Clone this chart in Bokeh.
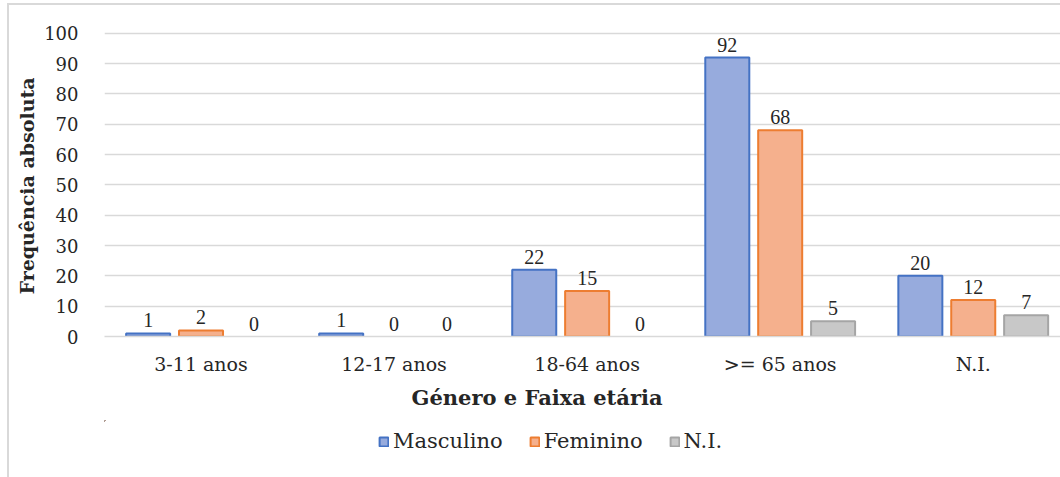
import numpy as np
from bokeh.plotting import figure
from bokeh.layouts import column
from bokeh.models import (Range1d, FixedTicker, Legend, LegendItem,
                          ColumnDataSource, LabelSet, Title)
from bokeh.embed import file_html
from bokeh.resources import INLINE

# Data
categories = ["3-11 anos", "12-17 anos", "18-64 anos", ">= 65 anos", "N.I."]
masculino = [1, 1, 22, 92, 20]
feminino = [2, 0, 15, 68, 12]
nao_indicado = [0, 0, 0, 5, 7]
series_names = ["Masculino", "Feminino", "N.I."]
y_ticks = list(range(0, 101, 10))

FONT = "DejaVu Serif"
TEXT = "#262626"
GRID = "#d9d9d9"

fills = ["#97abdd", "#f5b08d", "#c8c8c8"]
lines = ["#4472c4", "#ed7d31", "#a5a5a5"]

base = np.arange(len(categories)) + 0.5
offset = 0.274
bar_w = 0.228
all_series = [masculino, feminino, nao_indicado]

p = figure(width=1051, height=415, output_backend="svg", toolbar_location=None,
           x_range=Range1d(0, 4.952), y_range=Range1d(0, 104.9),
           min_border_left=94, min_border_right=0, min_border_top=13,
           min_border_bottom=84)
p.outline_line_color = None

for i, vals in enumerate(all_series):
    src = ColumnDataSource(dict(x=base + (i - 1) * offset, top=vals,
                                lab=[str(v) for v in vals],
                                la=[1.0 if v > 0 else 0.0 for v in vals]))
    p.vbar(x="x", top="top", width=bar_w, source=src,
           fill_color=fills[i], line_color=lines[i], line_width=2,
           line_alpha="la")
    p.add_layout(LabelSet(x="x", y="top", text="lab", source=src,
                          text_align="center", text_baseline="bottom",
                          y_offset=6, text_font=FONT, text_font_size="20px",
                          text_color=TEXT))

# Axes
p.xaxis.ticker = FixedTicker(ticks=list(base))
p.xaxis.major_label_overrides = {float(b): c for b, c in zip(base, categories)}
p.xaxis.axis_line_color = GRID
p.xaxis.axis_line_width = 1.5
p.xaxis.major_tick_line_color = None
p.xaxis.minor_tick_line_color = None
p.xaxis.major_label_standoff = 10
p.xaxis.major_label_text_font = FONT
p.xaxis.major_label_text_font_size = "19px"
p.xaxis.major_label_text_color = TEXT

p.yaxis.ticker = FixedTicker(ticks=y_ticks)
p.yaxis.axis_line_color = None
p.yaxis.major_tick_line_color = None
p.yaxis.minor_tick_line_color = None
p.yaxis.major_label_standoff = 20
p.yaxis.major_label_text_font = FONT
p.yaxis.major_label_text_font_size = "18px"
p.yaxis.major_label_text_color = TEXT

p.xgrid.grid_line_color = None
p.ygrid.grid_line_color = GRID
p.ygrid.grid_line_width = 1.5

title_style = dict(text_font=FONT, text_font_style="bold", text_color=TEXT)
p.add_layout(Title(text="Género e Faixa etária", align="left", offset=307,
                   standoff=11, text_font_size="21px", **title_style), "below")
p.add_layout(Title(text="Frequência absoluta", align="left", offset=42,
                   standoff=8, text_font_size="19px", **title_style), "left")

# Legend strip underneath the chart; its swatch renderers lie far outside
# the strip's ranges so only the legend itself is drawn
lg = figure(width=1051, height=57, output_backend="svg", toolbar_location=None,
            x_range=Range1d(10, 11), y_range=Range1d(-2, -1), min_border=0)
lg.axis.visible = False
lg.grid.visible = False
lg.outline_line_color = None
swatches = []
for i, vals in enumerate(all_series):
    swatches.append(lg.vbar(x=base + (i - 1) * offset, top=vals, width=bar_w,
                            fill_color=fills[i], line_color=lines[i],
                            line_width=2))
legend = Legend(items=[LegendItem(label=n, renderers=[r])
                       for n, r in zip(series_names, swatches)],
                orientation="horizontal", location=(274, 24),
                glyph_width=11, glyph_height=11, label_standoff=4,
                spacing=26, padding=0, margin=0,
                label_text_font=FONT, label_text_font_size="21px",
                label_text_color=TEXT, border_line_color=None,
                background_fill_alpha=0)
lg.add_layout(legend, "center")

page = column(p, lg, spacing=0)
page.styles = {"border-left": "2px solid #d9d9d9", "border-top": "2px solid #d9d9d9",
               "margin-left": "7px", "margin-top": "3px"}

open("out.html", "w").write(file_html(page, INLINE))
